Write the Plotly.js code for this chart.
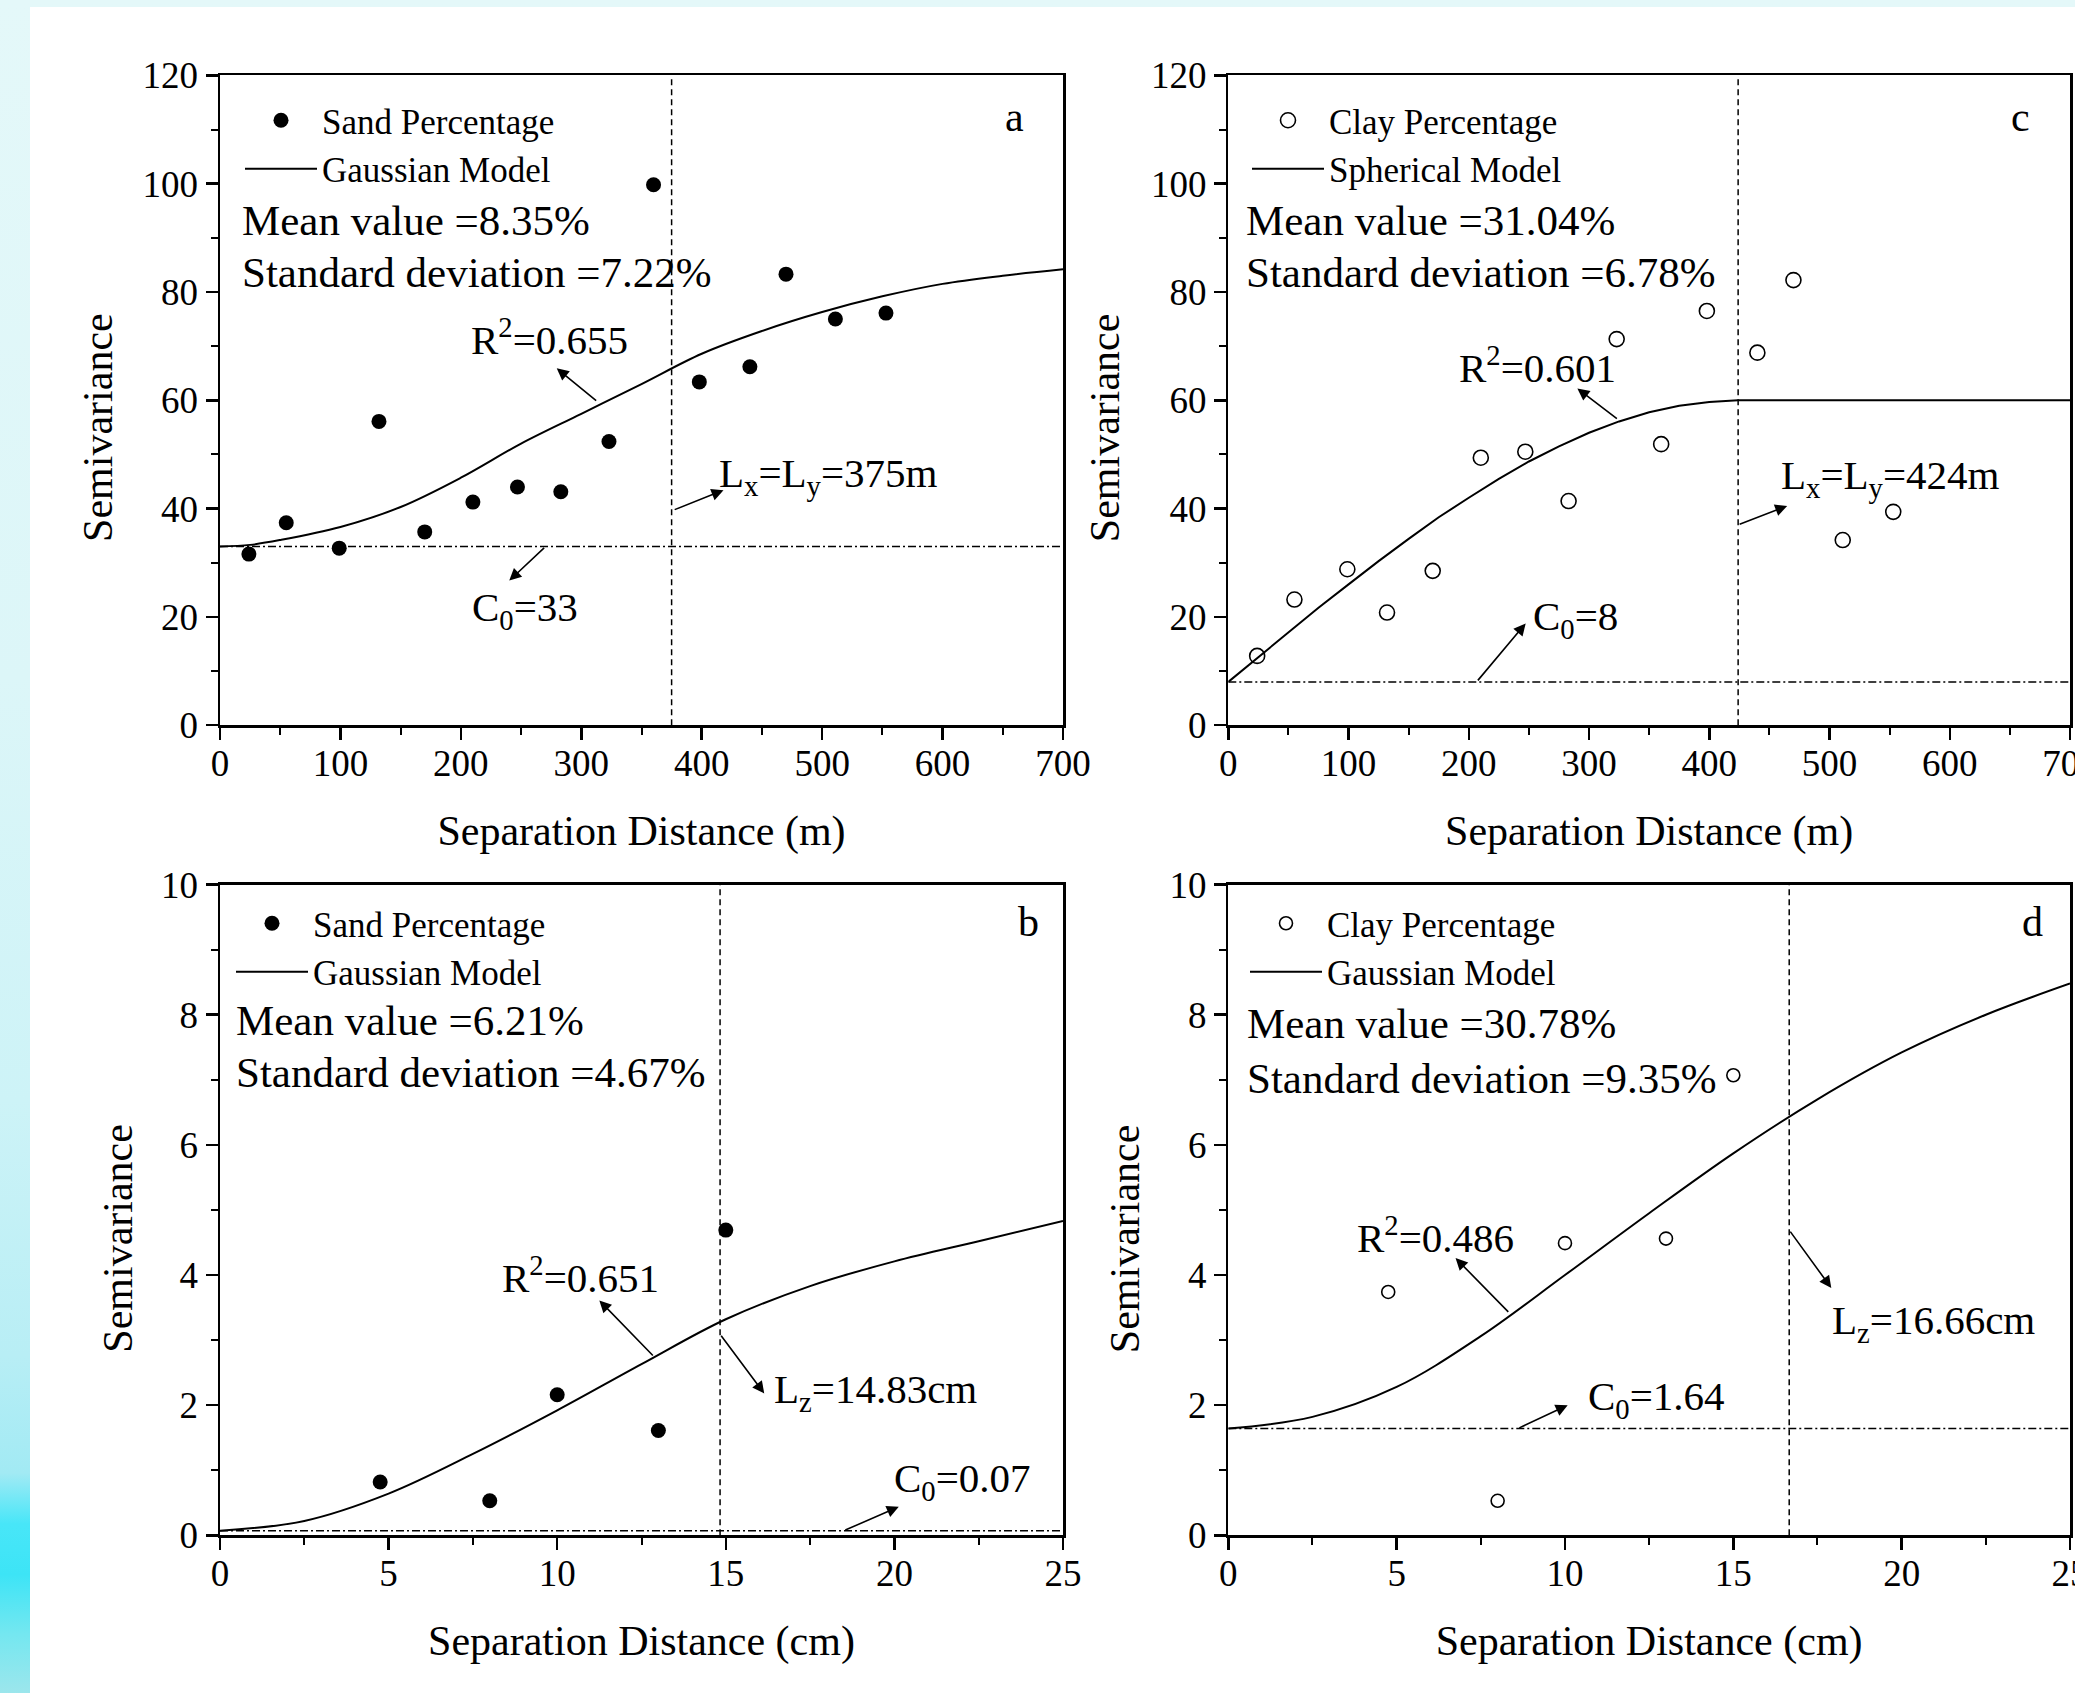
<!DOCTYPE html>
<html><head><meta charset="utf-8">
<script src="https://cdn.plot.ly/plotly-3.0.1.min.js"></script>
<style>
html,body{margin:0;padding:0;width:2075px;height:1693px;overflow:hidden;background:#fff;}
#bg{position:absolute;left:0;top:0;width:2075px;height:1693px;
 background:linear-gradient(to bottom,#e4f8f9 0%,#dcf6f8 40%,#cdf3f7 65%,#b8eef5 80%,#a2eaf4 87%,#48e6f8 90%,#3de4f6 93%,#74e7f0 96.5%,#9ce6ec 100%);}
#paper{position:absolute;left:30px;top:7px;width:2045px;height:1686px;background:#fff;}
#plot{position:absolute;left:0;top:0;width:2075px;height:1693px;}
</style></head>
<body><div id="bg"></div><div id="paper"></div><div id="plot"></div>
<script>
// ---------------- data ----------------
const lagM = [24, 55, 99, 132, 170, 210, 247, 283, 323, 360, 398, 440, 470, 511, 553];
const sandGammaM = [31.6, 37.4, 32.7, 56.1, 35.7, 41.2, 44.0, 43.1, 52.4, 99.8, 63.4, 66.2, 83.3, 75.0, 76.1];
const clayGammaM = [12.8, 23.2, 28.8, 20.8, 28.5, 49.4, 50.5, 41.4, 71.3, 51.9, 76.5, 68.8, 82.2, 34.2, 39.4];

const lagCm = [4.75, 8.0, 10.0, 13.0, 15.0];
const sandGammaCm = [0.82, 0.53, 2.16, 1.61, 4.69];
const clayGammaCm = [3.74, 0.53, 4.49, 4.56, 7.07];

const sandModelXM = [0, 25, 50, 100, 150, 200, 250, 300, 350, 400, 450, 500, 550, 600, 650, 700];
const sandModelM = [33.0, 33.3, 34.2, 36.6, 40.3, 45.7, 52.0, 57.5, 63.0, 68.6, 72.8, 76.3, 79.2, 81.5, 83.0, 84.2];

const clayModelXM = [0, 25, 50, 75, 100, 125, 150, 175, 200, 225, 250, 275, 300, 325, 350, 375, 400, 424, 500, 600, 700];
const clayModelM = [8.0, 12.6, 17.2, 21.7, 26.0, 30.3, 34.4, 38.4, 42.0, 45.5, 48.7, 51.5, 54.0, 56.1, 57.8, 59.0, 59.7, 60.0, 60.0, 60.0, 60.0];

const modelXCm = [0, 2.5, 5, 7.5, 10, 12.5, 15, 17.5, 20, 22.5, 25];
const sandModelCm = [0.07, 0.22, 0.64, 1.25, 1.92, 2.63, 3.32, 3.83, 4.21, 4.52, 4.83];
const clayModelCm = [1.64, 1.82, 2.28, 3.06, 4.00, 4.95, 5.87, 6.70, 7.42, 8.00, 8.48];

// nugget (C0) and range values per panel: a, b, c, d
const nuggets = [33, 0.07, 8, 1.64];
const ranges = [375, 14.83, 424, 16.66];
const xMax = [700, 25, 700, 25];
const yMax = [120, 10, 120, 10];

const meanText = ['Mean value =8.35%', 'Mean value =6.21%', 'Mean value =31.04%', 'Mean value =30.78%'];
const sdText = ['Standard deviation =7.22%', 'Standard deviation =4.67%', 'Standard deviation =6.78%', 'Standard deviation =9.35%'];
const r2Text = ['R<sup>2</sup>=0.655', 'R<sup>2</sup>=0.651', 'R<sup>2</sup>=0.601', 'R<sup>2</sup>=0.486'];
const c0Text = ['C<sub>0</sub>=33', 'C<sub>0</sub>=0.07', 'C<sub>0</sub>=8', 'C<sub>0</sub>=1.64'];
const rangeText = ['L<sub>x</sub>=L<sub>y</sub>=375m', 'L<sub>z</sub>=14.83cm', 'L<sub>x</sub>=L<sub>y</sub>=424m', 'L<sub>z</sub>=16.66cm'];
const panelLetters = ['a', 'b', 'c', 'd'];

// ---------------- layout helpers ----------------
const FONT = '"Liberation Serif", "Times New Roman", Times, serif';
const W = 2075, H = 1693;
const px = v => v / W;
const py = v => 1 - v / H;
const axIds = ['', '2', '3', '4'];

function xAxis(dom, max, dtick, mdt, anchor, title) {
  return {
    domain: dom, range: [0, max], anchor: anchor, autorange: false,
    tickmode: 'linear', tick0: 0, dtick: dtick,
    ticks: 'outside', ticklen: 12, tickwidth: 2.5, tickcolor: '#000',
    minor: {dtick: mdt, tick0: 0, ticks: 'outside', ticklen: 7, tickwidth: 2, tickcolor: '#000', showgrid: false},
    showline: true, linecolor: '#000', linewidth: 2.5, mirror: true,
    showgrid: false, zeroline: false,
    ticklabelstandoff: -8, ticklabeloverflow: 'allow',
    tickfont: {family: FONT, size: 37, color: '#000'},
    title: {text: title, font: {family: FONT, size: 42, color: '#000'}, standoff: 33},
    fixedrange: true
  };
}
function yAxis(dom, max, dtick, mdt, anchor) {
  return {
    domain: dom, range: [0, max], anchor: anchor, autorange: false,
    tickmode: 'linear', tick0: 0, dtick: dtick,
    ticks: 'outside', ticklen: 12, tickwidth: 2.5, tickcolor: '#000',
    minor: {dtick: mdt, tick0: 0, ticks: 'outside', ticklen: 7, tickwidth: 2, tickcolor: '#000', showgrid: false},
    showline: true, linecolor: '#000', linewidth: 2.5, mirror: true,
    showgrid: false, zeroline: false,
    tickfont: {family: FONT, size: 37, color: '#000'},
    fixedrange: true
  };
}

const xDomL = [px(220), px(1063)], xDomR = [px(1228.3), px(2070)];
const yDomT = [py(725.2), py(75.4)], yDomB = [py(1535.3), py(884.6)];

// ---------------- traces ----------------
const traces = [
  {x: lagM, y: sandGammaM, xaxis: 'x', yaxis: 'y', mode: 'markers', name: 'Sand Percentage', legend: 'legend',
   marker: {symbol: 'circle', size: 15, color: '#000'}},
  {x: sandModelXM, y: sandModelM, xaxis: 'x', yaxis: 'y', mode: 'lines', name: 'Gaussian Model', legend: 'legend',
   line: {color: '#000', width: 2, shape: 'spline'}},
  {x: lagCm, y: sandGammaCm, xaxis: 'x2', yaxis: 'y2', mode: 'markers', name: 'Sand Percentage', legend: 'legend2',
   marker: {symbol: 'circle', size: 15, color: '#000'}},
  {x: modelXCm, y: sandModelCm, xaxis: 'x2', yaxis: 'y2', mode: 'lines', name: 'Gaussian Model', legend: 'legend2',
   line: {color: '#000', width: 2, shape: 'spline'}},
  {x: lagM, y: clayGammaM, xaxis: 'x3', yaxis: 'y3', mode: 'markers', name: 'Clay Percentage', legend: 'legend3',
   marker: {symbol: 'circle-open', size: 15, color: '#000', line: {width: 1.6, color: '#000'}}},
  {x: clayModelXM, y: clayModelM, xaxis: 'x3', yaxis: 'y3', mode: 'lines', name: 'Spherical Model', legend: 'legend3',
   line: {color: '#000', width: 2}},
  {x: lagCm, y: clayGammaCm, xaxis: 'x4', yaxis: 'y4', mode: 'markers', name: 'Clay Percentage', legend: 'legend4',
   marker: {symbol: 'circle-open', size: 13, color: '#000', line: {width: 1.6, color: '#000'}}},
  {x: modelXCm, y: clayModelCm, xaxis: 'x4', yaxis: 'y4', mode: 'lines', name: 'Gaussian Model', legend: 'legend4',
   line: {color: '#000', width: 2, shape: 'spline'}}
];

// ---------------- shapes: nugget and range lines ----------------
const shapes = [];
for (let i = 0; i < 4; i++) {
  const xr = 'x' + axIds[i], yr = 'y' + axIds[i];
  shapes.push({type: 'line', xref: xr, yref: yr, x0: 0, x1: xMax[i], y0: nuggets[i], y1: nuggets[i],
    line: {color: '#000', width: 1.5, dash: '8px,3px,2px,3px'}});
  shapes.push({type: 'line', xref: xr, yref: yr, x0: ranges[i], x1: ranges[i], y0: 0, y1: yMax[i],
    line: {color: '#000', width: 1.5, dash: '6px,4px'}});
}

// ---------------- annotations ----------------
const ann = [];
function txt(xr, yr, x, y, text, size, xanchor, extra) {
  ann.push(Object.assign({xref: xr, yref: yr, x: x, y: y, text: text, showarrow: false,
    xanchor: xanchor || 'center', yanchor: 'middle', font: {family: FONT, size: size, color: '#000'}}, extra || {}));
}
function arrow(i, hx, hy, tx, ty) {
  const xr = 'x' + axIds[i], yr = 'y' + axIds[i];
  ann.push({xref: xr, yref: yr, axref: xr, ayref: yr, x: hx, y: hy, ax: tx, ay: ty, text: '',
    showarrow: true, arrowhead: 2, arrowsize: 1.5, arrowwidth: 1.6, arrowcolor: '#000', standoff: 0, startstandoff: 0});
}
// panel stats text (paper px positions)
const statPos = [[240, 220.8, 272.9], [234.4, 1020.9, 1072.5], [1244.4, 220.8, 272.9], [1245, 1023.6, 1078]];
for (let i = 0; i < 4; i++) {
  txt('paper', 'paper', px(statPos[i][0]), py(statPos[i][1]), meanText[i], 43, 'left');
  txt('paper', 'paper', px(statPos[i][0]), py(statPos[i][2]), sdText[i], 43, 'left');
}
// y axis titles
const yTitlePos = [[98, 427.9], [117.2, 1238.5], [1105.3, 427.9], [1124.7, 1238.5]];
yTitlePos.forEach(p => txt('paper', 'paper', px(p[0]), py(p[1]), 'Semivariance', 42, 'center', {textangle: -90}));

// per-panel labels: letter, R2, C0, range
const labelPos = [
  {L: [660.0, 112.4], R: [273.9, 71.6], C: [207.7, 21.2], G: [412.6, 46.0]},
  {L: [23.99, 9.42], R: [10.70, 4.00], C: [19.92, 0.83], G: [16.38, 2.20]},
  {L: [658.8, 112.3], R: [256.9, 66.6], C: [251.6, 19.6], G: [458.0, 45.6]},
  {L: [23.89, 9.43], R: [6.15, 4.61], C: [10.62, 2.10], G: [17.87, 3.26]}
];
const arrowPos = [
  {R: [279.6, 65.9, 313.6, 59.7], C: [240.2, 26.7, 270.4, 33.0], G: [418.1, 43.4, 376.3, 39.7]},
  {R: [11.25, 3.61, 12.88, 2.74], C: [20.13, 0.44, 18.50, 0.07], G: [16.14, 2.18, 14.83, 3.09]},
  {R: [290.3, 62.2, 324.4, 56.4], C: [247.3, 18.8, 206.5, 8.0], G: [464.8, 40.5, 424.0, 37.0]},
  {R: [6.75, 4.26, 8.36, 3.41], C: [10.08, 2.00, 8.60, 1.64], G: [17.91, 3.80, 16.66, 4.69]}
];
for (let i = 0; i < 4; i++) {
  const xr = 'x' + axIds[i], yr = 'y' + axIds[i];
  const p = labelPos[i], a = arrowPos[i];
  txt(xr, yr, p.L[0], p.L[1], panelLetters[i], 42, 'center');
  txt(xr, yr, p.R[0], p.R[1], r2Text[i], 41, 'center');
  txt(xr, yr, p.C[0], p.C[1], c0Text[i], 41, 'left');
  txt(xr, yr, p.G[0], p.G[1], rangeText[i], 41, 'left');
  arrow(i, a.R[0], a.R[1], a.R[2], a.R[3]);
  arrow(i, a.C[0], a.C[1], a.C[2], a.C[3]);
  arrow(i, a.G[0], a.G[1], a.G[2], a.G[3]);
}

// legends
function legendAt(x, y) {
  return {x: px(x), y: py(y), xanchor: 'left', yanchor: 'top', bgcolor: 'rgba(0,0,0,0)', borderwidth: 0,
    font: {family: FONT, size: 35, color: '#000'}, itemwidth: 72, tracegroupgap: 0, traceorder: 'normal'};
}

const layout = {
  width: W, height: H, margin: {l: 0, r: 0, t: 0, b: 0},
  paper_bgcolor: 'rgba(0,0,0,0)', plot_bgcolor: 'rgba(0,0,0,0)',
  font: {family: FONT, color: '#000'},
  showlegend: true,
  xaxis: xAxis(xDomL, 700, 100, 50, 'y', 'Separation Distance (m)'),
  yaxis: yAxis(yDomT, 120, 20, 10, 'x'),
  xaxis2: xAxis(xDomL, 25, 5, 2.5, 'y2', 'Separation Distance (cm)'),
  yaxis2: yAxis(yDomB, 10, 2, 1, 'x2'),
  xaxis3: xAxis(xDomR, 700, 100, 50, 'y3', 'Separation Distance (m)'),
  yaxis3: yAxis(yDomT, 120, 20, 10, 'x3'),
  xaxis4: xAxis(xDomR, 25, 5, 2.5, 'y4', 'Separation Distance (cm)'),
  yaxis4: yAxis(yDomB, 10, 2, 1, 'x4'),
  legend: legendAt(240, 91),
  legend2: legendAt(231, 894),
  legend3: legendAt(1247, 91),
  legend4: legendAt(1245, 894),
  shapes: shapes,
  annotations: ann
};

Plotly.newPlot('plot', traces, layout, {staticPlot: true, displayModeBar: false});
</script></body></html>
